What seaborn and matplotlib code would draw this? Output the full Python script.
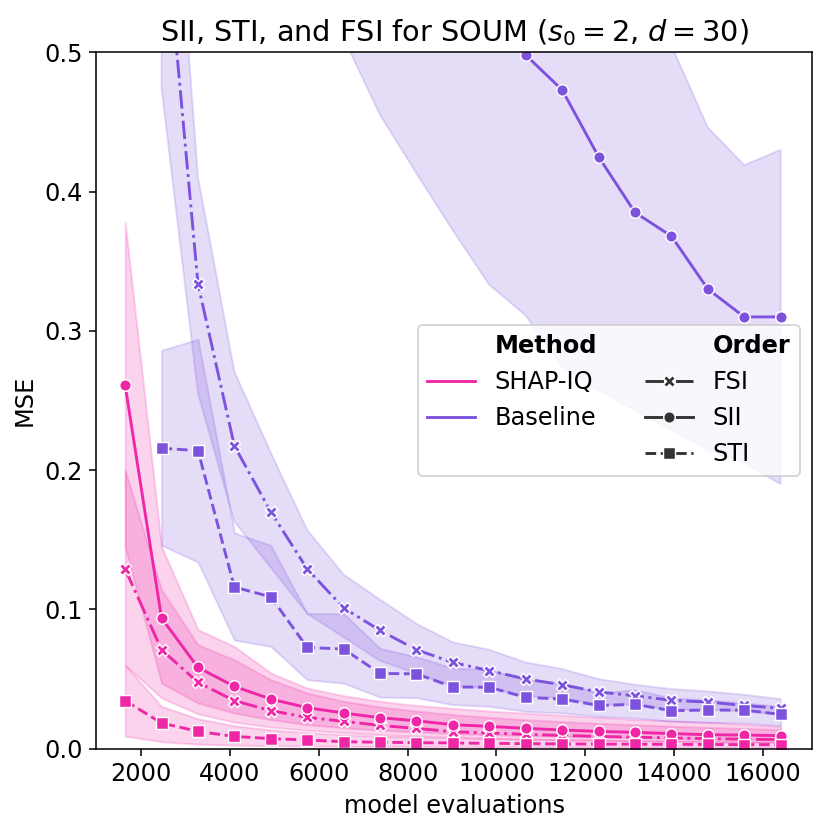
import numpy as np
import pandas as pd
import matplotlib
matplotlib.use("Agg")
import matplotlib.pyplot as plt
from matplotlib.lines import Line2D
import seaborn as sns

plt.rcParams['font.size'] = 12.5

# số lần đánh giá mô hình
x_all = [1640, 2460, 3280, 4100, 4920, 5740, 6560, 7380, 8200, 9020,
         9840, 10660, 11480, 12300, 13120, 13940, 14760, 15580, 16400]
x_base = x_all[1:]

# SHAP-IQ
sii_mse = [0.261, 0.0937, 0.0583, 0.0447, 0.0356, 0.0294, 0.0256, 0.0222, 0.0200, 0.0172,
           0.0160, 0.0146, 0.0134, 0.0124, 0.0117, 0.0108, 0.0100, 0.0098, 0.0093]
sii_lo = [0.145, 0.047, 0.0328, 0.0256, 0.0208, 0.0172, 0.0150, 0.0132, 0.0120, 0.0108,
          0.0100, 0.0094, 0.0088, 0.0083, 0.0079, 0.0074, 0.0070, 0.0067, 0.0064]
sii_hi = [0.378, 0.145, 0.0854, 0.0734, 0.0543, 0.0435, 0.0380, 0.0340, 0.0310, 0.0290,
          0.0270, 0.0255, 0.0240, 0.0225, 0.0210, 0.0200, 0.0190, 0.0175, 0.0160]

fsi_mse = [0.129, 0.071, 0.0476, 0.0344, 0.0273, 0.0225, 0.0196, 0.0167, 0.0145, 0.0122,
           0.0112, 0.0103, 0.0095, 0.0088, 0.0082, 0.0077, 0.0072, 0.0068, 0.0065]
fsi_lo = [0.060, 0.0364, 0.0250, 0.0190, 0.0155, 0.0132, 0.0115, 0.0100, 0.0090, 0.0082,
          0.0075, 0.0069, 0.0064, 0.0060, 0.0056, 0.0053, 0.0050, 0.0047, 0.0045]
fsi_hi = [0.200, 0.114, 0.0746, 0.0638, 0.0495, 0.0400, 0.0340, 0.0300, 0.0270, 0.0245,
          0.0225, 0.0208, 0.0195, 0.0182, 0.0172, 0.0162, 0.0153, 0.0145, 0.0138]

sti_mse = [0.0344, 0.0184, 0.0124, 0.0088, 0.0072, 0.0062, 0.0050, 0.0046, 0.0043, 0.0041,
           0.0038, 0.0036, 0.0034, 0.0033, 0.0032, 0.0031, 0.0030, 0.0029, 0.0029]
sti_lo = [0.0090, 0.0050, 0.0032, 0.0025, 0.0021, 0.0018, 0.0016, 0.0015, 0.0014, 0.0013,
          0.0012, 0.0012, 0.0011, 0.0011, 0.0010, 0.0010, 0.0010, 0.0009, 0.0009]
sti_hi = [0.0600, 0.0304, 0.0215, 0.0165, 0.0135, 0.0115, 0.0100, 0.0090, 0.0083, 0.0077,
          0.0072, 0.0068, 0.0064, 0.0061, 0.0058, 0.0056, 0.0054, 0.0052, 0.0050]

# Baseline (bắt đầu từ 2460)
b_fsi_mse = [0.62, 0.3336, 0.2174, 0.170, 0.129, 0.101, 0.0849, 0.071, 0.0619,
             0.056, 0.050, 0.0459, 0.0407, 0.038, 0.0347, 0.0335, 0.031, 0.029]
b_fsi_lo = [0.474, 0.255, 0.163, 0.130, 0.097, 0.080, 0.063, 0.054, 0.0447,
            0.0435, 0.0375, 0.0364, 0.0316, 0.0316, 0.028, 0.028, 0.0268, 0.0244]
b_fsi_hi = [0.76, 0.4105, 0.2707, 0.2125, 0.157, 0.125, 0.107, 0.0897, 0.0763,
            0.071, 0.0619, 0.0572, 0.050, 0.0459, 0.0428, 0.0411, 0.0387, 0.0356]

b_sii_mse = [2.4, 1.9, 1.5, 1.22, 1.02, 0.88, 0.77, 0.69, 0.62,
             0.56, 0.498, 0.473, 0.425, 0.385, 0.368, 0.330, 0.310, 0.310]
b_sii_lo = [1.2, 0.95, 0.80, 0.68, 0.58, 0.51, 0.455, 0.413, 0.372,
            0.333, 0.311, 0.274, 0.2575, 0.243, 0.229, 0.2145, 0.205, 0.19]
b_sii_hi = [4.2, 3.3, 2.6, 2.1, 1.75, 1.5, 1.3, 1.12, 0.98,
            0.86, 0.76, 0.68, 0.61, 0.56, 0.505, 0.446, 0.419, 0.43]

b_sti_mse = [0.2157, 0.214, 0.116, 0.109, 0.0727, 0.0715, 0.054, 0.0537, 0.0443,
             0.0441, 0.0368, 0.0356, 0.031, 0.0318, 0.0273, 0.0277, 0.0277, 0.0246]
b_sti_lo = [0.146, 0.134, 0.078, 0.0734, 0.0495, 0.047, 0.0370, 0.0366, 0.0316,
            0.0304, 0.0268, 0.0256, 0.0232, 0.022, 0.0196, 0.0189, 0.0184, 0.0165]
b_sti_hi = [0.286, 0.294, 0.155, 0.146, 0.097, 0.097, 0.072, 0.066, 0.0579,
            0.0567, 0.0495, 0.0471, 0.040, 0.0423, 0.0364, 0.0351, 0.0328, 0.0304]

methods = ["SHAP-IQ", "Baseline"]
orders = ["FSI", "SII", "STI"]
colors = {"SHAP-IQ": "#ef27a6", "Baseline": "#7d53de"}

series = [
    ("SHAP-IQ", "FSI", x_all, fsi_mse, fsi_lo, fsi_hi),
    ("SHAP-IQ", "SII", x_all, sii_mse, sii_lo, sii_hi),
    ("SHAP-IQ", "STI", x_all, sti_mse, sti_lo, sti_hi),
    ("Baseline", "FSI", x_base, b_fsi_mse, b_fsi_lo, b_fsi_hi),
    ("Baseline", "SII", x_base, b_sii_mse, b_sii_lo, b_sii_hi),
    ("Baseline", "STI", x_base, b_sti_mse, b_sti_lo, b_sti_hi),
]

# gom dữ liệu thành bảng dài
frames = []
for method, order, xs, ys, lo, hi in series:
    frames.append(pd.DataFrame({"model evaluations": xs, "MSE": ys,
                                "Method": method, "Order": order}))
df = pd.concat(frames, ignore_index=True)

fig, ax = plt.subplots(figsize=(6, 6), dpi=830 / 6)
fig.subplots_adjust(left=0.116, right=0.978, top=0.937, bottom=0.098)

# vùng sai số
for method, order, xs, ys, lo, hi in series:
    ax.fill_between(xs, lo, hi, color=colors[method], alpha=0.2)

sns.lineplot(data=df, x="model evaluations", y="MSE", hue="Method", style="Order",
             hue_order=methods, style_order=orders, palette=colors,
             markers={"FSI": "X", "SII": "o", "STI": "s"},
             dashes={"FSI": (6.4, 1.6, 1, 1.6), "SII": "", "STI": (3.7, 1.6)},
             ax=ax)

ax.set_ylim(0, 0.5)
ax.set_xlim(990, 17100)
ax.set_title("SII, STI, and FSI for SOUM ($s_0 = 2$, $d = 30$)", fontsize=15)

handles, labels = ax.get_legend_handles_labels()
idx = labels.index("Order")
handles.insert(idx, Line2D([], [], linestyle="none"))
labels.insert(idx, "")
leg = ax.legend(handles, labels, ncol=2, loc="center right")
for t in leg.get_texts():
    if t.get_text() in ("Method", "Order"):
        t.set_fontweight("bold")

plt.savefig("out.png", dpi=830 / 6)
